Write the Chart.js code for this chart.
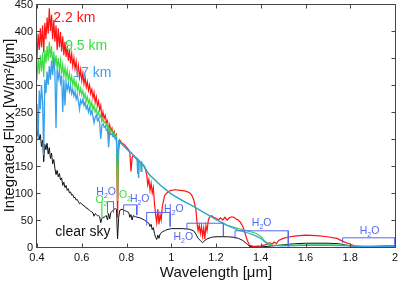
<!DOCTYPE html>
<html><head><meta charset="utf-8">
<script src="https://cdn.jsdelivr.net/npm/chart.js@4"></script>
<style>html,body{margin:0;padding:0;background:#fff;}canvas{display:block;}</style>
</head><body>
<canvas id="c" width="399" height="281"></canvas>
<script>
// ---- data (wavelength in µm, integrated flux in W/m²/µm) ----
const denseWl = [
0.400,0.405,0.410,0.415,0.420,0.425,0.430,0.435,0.440,0.445,
0.450,0.455,0.460,0.465,0.470,0.475,0.480,0.485,0.490,0.495,
0.500,0.505,0.510,0.515,0.520,0.525,0.530,0.535,0.540,0.545,
0.550,0.555,0.560,0.565,0.570,0.575,0.580,0.585,0.590,0.595,
0.600,0.605,0.610,0.615,0.620,0.625,0.630,0.635,0.640,0.645,
0.650,0.655,0.660,0.665,0.670,0.675,0.680,0.685,0.690,0.695,
0.700,0.705,0.710,0.715,0.720,0.725,0.730,0.735,0.740,0.745,
0.750,0.755,0.760];
const redDense = [
350,395,365,405,370,410,360,415,385,425,
395,442,400,430,385,420,380,410,365,405,
370,398,362,390,355,380,352,372,345,365,
340,358,335,350,330,344,322,336,314,328,
308,322,302,314,296,306,290,300,284,292,
276,286,268,278,262,270,254,262,238,250,
238,244,230,234,212,226,214,220,208,214,
204,208,54];
const greenDense = [
310,350,320,355,325,360,315,365,340,372,
345,380,350,372,340,362,335,355,330,350,
328,345,320,338,316,332,314,328,308,322,
305,316,300,312,296,306,290,300,284,294,
282,290,276,284,270,278,266,273,260,268,
254,262,250,256,244,250,240,244,232,237,
230,233,224,228,215,220,214,216,208,211,
204,206,85];
const blueDense = [
265,200,290,255,300,270,170,310,285,325,
300,335,310,345,318,350,322,220,330,312,
325,305,318,250,310,262,305,292,302,288,
298,284,292,280,288,274,282,270,255,272,
266,274,262,268,256,262,250,258,246,252,
242,230,240,244,234,238,230,200,226,228,
222,224,216,218,185,212,208,210,204,206,
200,202,150];
const blackDense = [
205,220,200,208,186,198,158,190,180,192,
172,184,164,174,154,162,146,134,142,130,
136,124,128,114,120,110,114,105,108,100,
102,96,97,91,92,87,88,84,80,82,
79,78,76,75,72,72,69,68,66,65,
63,57,62,60,58,58,56,45,53,55,
55,57,58,50,62,52,64,66,68,70,
71,70,15];

const redTailWl = [0.765,0.770,0.780,0.790,0.800,0.810,0.815,0.820,0.825,0.830,0.840,0.850,0.860,0.870,0.880,0.890,0.895,0.900,0.905,0.910,0.915,0.920,0.925,0.930,0.935,0.940,0.945,0.950,0.955,0.960,0.965,0.970,0.980,0.990,1.000,1.020,1.040,1.060,1.080,1.090,1.100,1.110,1.115,1.120,1.125,1.130,1.135,1.140,1.145,1.150,1.155,1.160,1.165,1.170,1.180,1.190,1.200,1.210,1.220,1.230,1.240,1.250,1.260,1.270,1.280,1.290,1.300,1.310,1.320,1.330,1.340,1.350,1.370,1.400,1.420,1.440,1.450,1.460,1.470,1.480,1.500,1.520,1.550,1.600,1.650,1.700,1.740,1.770,1.800,1.830,1.900,1.950,2.000];
const redTail = [180,198,192,190,185,180,175,140,165,170,165,160,158,154,150,135,115,125,105,118,100,110,80,60,45,70,42,60,50,75,85,95,100,103,105,106,105,104,101,97,88,70,45,30,40,25,38,20,35,15,40,30,48,55,58,55,53,50,54,50,55,50,54,56,55,52,50,45,38,25,12,3,1,2,4,8,5,9,6,12,16,18,20,22,21,19,16,10,5,1,1,2,2];

const greenTailWl = [0.765,0.780,0.800,0.810,0.820,0.840,0.848,0.850,0.852,0.854,0.856,0.864,0.866,0.868,0.880,0.900,0.950,1.000,1.050,1.100,1.150,1.200,1.250,1.300,1.350,1.380,1.400,1.420,1.450,1.500,1.600,1.700,1.800,1.850,1.900,2.000];
const greenTail = [196,190,182,178,175,166,164,135,162,128,160,157,140,156,148,135,115,98,86,75,63,51,40,34,29,25,20,10,3,3,4,4,3,1,1,1];

const blueTailWl = [0.765,0.780,0.800,0.810,0.820,0.840,0.848,0.850,0.852,0.854,0.856,0.864,0.866,0.868,0.880,0.900,0.950,1.000,1.050,1.100,1.150,1.200,1.250,1.300,1.350,1.380,1.400,1.420,1.430,1.440,1.500,1.600,1.700,1.800,1.850,1.900,2.000];
const blueTail = [196,190,182,178,175,166,164,135,162,128,160,157,140,156,148,135,115,98,86,75,63,51,40,31,25,20,16,9,5,3,2,3,3,2,1,0.5,0.5];

const blackTailWl = [0.765,0.770,0.780,0.790,0.800,0.810,0.815,0.820,0.825,0.830,0.840,0.850,0.860,0.870,0.880,0.890,0.900,0.905,0.910,0.915,0.920,0.925,0.930,0.935,0.940,0.945,0.950,0.960,0.970,0.980,1.000,1.050,1.080,1.100,1.110,1.120,1.130,1.140,1.150,1.160,1.180,1.200,1.250,1.280,1.300,1.320,1.340,1.350,1.400,1.450,1.500,1.550,1.600,1.700,1.750,1.800,1.850,1.900,2.000];
const blackTail = [55,68,70,68,66,64,55,60,50,58,56,55,54,52,50,47,44,38,42,32,36,25,18,14,22,16,24,28,30,32,34,34,33,30,24,16,12,8,12,15,18,19,19,18,16,12,5,1,0,2,4,6,7,7,6,2,0,1,1];

// absorption band brackets
const bracketX0 = [0.715, 0.787, 0.890, 1.070, 1.285, 1.766];
const bracketX1 = [0.742, 0.846, 0.995, 1.233, 1.523, 2.000];
const bracketTop = [84, 78, 64, 44, 30, 17];
const bracketLeftEnd = [62, 59, 40, 33, 15, 7];
const bracketRightEnd = [64, 59, 38, 20, 1, 0];

// O2 B-band marker
const o2MarkX = 0.690, o2MarkLow = 54, o2MarkHigh = 84;

// band labels (main text, subscript, trailing text)
const bandLabelMain = ["H","O","O","H","H","H","H","H"];
const bandLabelSub  = ["2","2","2","2","2","2","2","2"];
const bandLabelEnd  = ["O","","","O","O","O","O","O"];
const bandLabelX = [0.709, 0.688, 0.793, 0.859, 1.012, 1.054, 1.404, 1.886];
const bandLabelY = [101, 87, 96, 89, 71, 17.6, 45, 29.6];
const bandLabelIsO2 = [false, true, true, false, false, false, false, false];

// series labels
const seriesLabels = ["2.2 km", "9.5 km", "17 km", "clear sky"];
const seriesLabelX = [0.473, 0.526, 0.562, 0.482];
const seriesLabelY = [417, 365, 315, 20.4];

const xTickValues = [0.4,0.6,0.8,1,1.2,1.4,1.6,1.8,2];
const xTickLabels = ["0.4","0.6","0.8","1","1.2","1.4","1.6","1.8","2"];
const yTickValues = [0,50,100,150,200,250,300,350,400,450];
const xTitle = "Wavelength [μm]";
const yTitle = "Integrated Flux [W/m²/μm]";

// ---- styles ----
const RED = '#ff1414', GREEN = '#3ddc44', BLUE = '#3a9fec', BLACK = '#111111', BAND = '#5468f0';
const seriesColors = [RED, GREEN, BLUE, BLACK];
const FONT = '"Liberation Sans", Arial, Helvetica, sans-serif';

function pairs(wl, fl) { const n = Math.min(wl.length, fl.length); const out = []; for (let i = 0; i < n; i++) out.push({x: wl[i], y: fl[i]}); return out; }

const datasets = [];
for (let i = 0; i < bracketX0.length; i++) {
  datasets.push({data: [
    {x: bracketX0[i], y: bracketLeftEnd[i]}, {x: bracketX0[i], y: bracketTop[i]},
    {x: bracketX1[i], y: bracketTop[i]}, {x: bracketX1[i], y: bracketRightEnd[i]}],
    borderColor: BAND, borderWidth: 1, pointRadius: 0, fill: false, tension: 0});
}
datasets.push({data: [{x: o2MarkX, y: o2MarkLow}, {x: o2MarkX, y: o2MarkHigh}], borderColor: GREEN, borderWidth: 1.2, pointRadius: 0});
datasets.push({label: '17 km', data: pairs(denseWl, blueDense).concat(pairs(blueTailWl, blueTail)), borderColor: BLUE, borderWidth: 1.3, pointRadius: 0});
datasets.push({label: '9.5 km', data: pairs(denseWl, greenDense).concat(pairs(greenTailWl, greenTail)), borderColor: GREEN, borderWidth: 1.2, pointRadius: 0});
datasets.push({label: '2.2 km', data: pairs(denseWl, redDense).concat(pairs(redTailWl, redTail)), borderColor: RED, borderWidth: 1.2, pointRadius: 0});
datasets.push({label: 'clear sky', data: pairs(denseWl, blackDense).concat(pairs(blackTailWl, blackTail)), borderColor: BLACK, borderWidth: 1, pointRadius: 0});

const decor = {
  id: 'decor',
  afterDatasetsDraw(chart) {
    const {ctx, chartArea: a, scales: {x, y}} = chart;
    ctx.save();
    // band labels with subscripts
    for (let i = 0; i < bandLabelX.length; i++) {
      const px = x.getPixelForValue(bandLabelX[i]), py = y.getPixelForValue(bandLabelY[i]);
      const mainF = '10.5px ' + FONT, subF = '7px ' + FONT;
      ctx.font = mainF; const w1 = ctx.measureText(bandLabelMain[i]).width; const w3 = ctx.measureText(bandLabelEnd[i]).width;
      ctx.font = subF; const w2 = ctx.measureText(bandLabelSub[i]).width;
      let sx = px - (w1 + w2 + w3) / 2;
      ctx.fillStyle = bandLabelIsO2[i] ? GREEN : BAND;
      ctx.textBaseline = 'middle'; ctx.textAlign = 'left';
      ctx.font = mainF; ctx.fillText(bandLabelMain[i], sx, py); sx += w1;
      ctx.font = subF; ctx.fillText(bandLabelSub[i], sx, py + 4); sx += w2;
      ctx.font = mainF; if (bandLabelEnd[i]) ctx.fillText(bandLabelEnd[i], sx, py);
    }
    // series labels
    ctx.font = '14px ' + FONT; ctx.textBaseline = 'alphabetic'; ctx.textAlign = 'left';
    for (let i = 0; i < seriesLabels.length; i++) {
      ctx.fillStyle = seriesColors[i];
      ctx.fillText(seriesLabels[i], x.getPixelForValue(seriesLabelX[i]), y.getPixelForValue(seriesLabelY[i]));
    }
    // frame and inward ticks
    ctx.strokeStyle = '#444'; ctx.lineWidth = 1;
    const L = a.left - 0.5, R = a.right + 0.5, T = a.top + 0.5, B = a.bottom + 0.5;
    ctx.beginPath(); ctx.rect(L, T, R - L, B - T); ctx.stroke();
    ctx.beginPath();
    for (const v of xTickValues) { const p = Math.round(x.getPixelForValue(v)) + 0.5; ctx.moveTo(p, B); ctx.lineTo(p, B - 4); ctx.moveTo(p, T); ctx.lineTo(p, T + 4); }
    for (const v of yTickValues) { const p = Math.round(y.getPixelForValue(v)) + 0.5; ctx.moveTo(L, p); ctx.lineTo(L + 4, p); ctx.moveTo(R, p); ctx.lineTo(R - 4, p); }
    ctx.stroke();
    // tick labels
    ctx.fillStyle = '#111'; ctx.font = '11px ' + FONT;
    ctx.textAlign = 'center'; ctx.textBaseline = 'middle';
    xTickValues.forEach((v, i) => ctx.fillText(xTickLabels[i], x.getPixelForValue(v), a.bottom + 11));
    ctx.textAlign = 'right';
    yTickValues.forEach(v => ctx.fillText(String(v), a.left - 4, y.getPixelForValue(v) + 0.5));
    // axis titles
    ctx.font = '15px ' + FONT; ctx.textAlign = 'center'; ctx.textBaseline = 'alphabetic';
    ctx.fillText(xTitle, (a.left + a.right) / 2, 276.7);
    ctx.save();
    ctx.translate(14, (a.top + a.bottom) / 2); ctx.rotate(-Math.PI / 2);
    ctx.fillText(yTitle, 0, 0);
    ctx.restore();
    ctx.restore();
  }
};

new Chart(document.getElementById('c'), {
  type: 'line',
  data: {datasets},
  options: {
    responsive: false, animation: false, devicePixelRatio: 1,
    layout: {padding: {left: 0, right: 4, top: 4, bottom: 0}},
    plugins: {legend: {display: false}, tooltip: {enabled: false}},
    elements: {line: {tension: 0}},
    scales: {
      x: {type: 'linear', min: 0.4, max: 2.0,
        afterFit(s) { s.height = 34; s.paddingLeft = 0; s.paddingRight = 0; },
        ticks: {display: false}, grid: {display: false}, border: {display: false}},
      y: {type: 'linear', min: 0, max: 450,
        afterFit(s) { s.width = 37; s.paddingTop = 0; s.paddingBottom = 0; },
        ticks: {display: false}, grid: {display: false}, border: {display: false}}
    }
  },
  plugins: [decor]
});
</script>
</body></html>
